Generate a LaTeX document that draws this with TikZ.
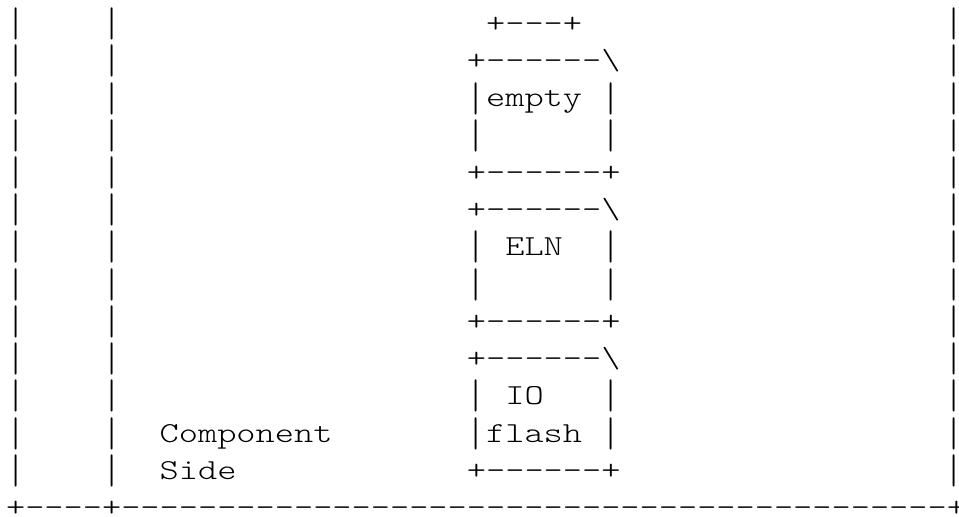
\documentclass[tikz,border=0pt]{standalone}
\usepackage{graphicx}
\usepackage{fontspec}
\setmonofont{lmmonolt10-regular.otf}[FakeStretch=1.261]
\newcommand{\vbar}{\makebox[0pt]{\raisebox{-2.05pt}{\scalebox{1}[1.42]{|}}}}
\begin{document}
\begin{tikzpicture}[
    x=9.6pt, y=-18.615pt,
    ascii/.style={font=\ttfamily\fontsize{14.5pt}{18.6pt}\selectfont, inner sep=0pt, outer sep=0pt, anchor=base west},
    bar/.style={ascii, anchor=base},
    label/.style={ascii}
]
\useasboundingbox (-3.05pt,-2.365pt) rectangle (476.45pt,-260.865pt);

% Board edges
\foreach \r in {1,...,13} {
    \node[bar] (lwall\r) at (0.5,\r) {\vbar};
    \node[bar] (iwall\r) at (5.5,\r) {\vbar};
    \node[bar] (rwall\r) at (49.4,\r) {\vbar};
}
\node[ascii] (board) at (0,14) {+----+-------------------------------------------+};

% Stacked parts
\node[ascii] (cap) at (25,1) {+---+};
\foreach \t/\n in {2/empty,6/eln,10/io} {
    \node[ascii] (\n-top) at (24,\t) {+------\textbackslash};
    \node[bar] (\n-l1) at (24.5,\t+1) {\vbar};
    \node[bar] (\n-r1) at (31.5,\t+1) {\vbar};
    \node[bar] (\n-l2) at (24.5,\t+2) {\vbar};
    \node[bar] (\n-r2) at (31.5,\t+2) {\vbar};
    \node[ascii] (\n-bot) at (24,\t+3) {+------+};
}

% Labels
\node[label] (emptylbl) at (25,3) {empty};
\node[label] (elnlbl) at (26,7) {ELN};
\node[label] (iolbl) at (26,11) {IO};
\node[label] (flashlbl) at (25,12) {flash};
\node[label] (comp) at (8,12) {Component};
\node[label] (side) at (8,13) {Side};

\end{tikzpicture}
\end{document}
